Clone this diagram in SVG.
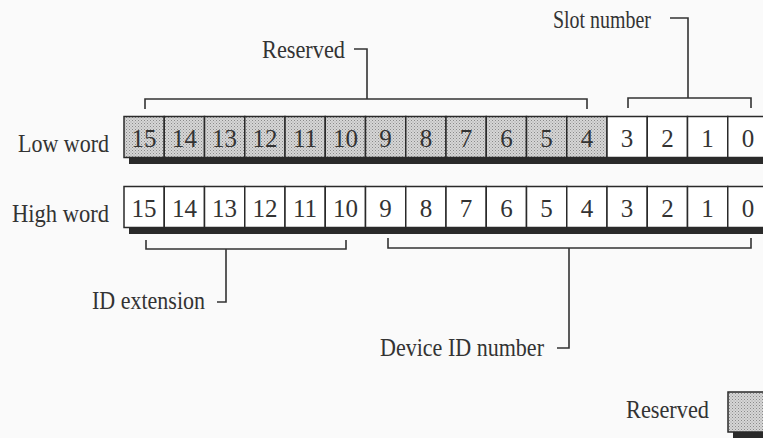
<svg xmlns="http://www.w3.org/2000/svg" width="763" height="438" viewBox="0 0 763 438">
<defs>
<pattern id="dots" width="3" height="3" patternUnits="userSpaceOnUse">
<rect width="3" height="3" fill="#d6d6d6"/>
<rect x="0" y="0" width="1" height="1" fill="#8a8a8a"/>
<rect x="1.5" y="1.5" width="1" height="1" fill="#a0a0a0"/>
</pattern>
</defs>
<style>
text{font-family:"Liberation Serif","Times New Roman",serif;fill:#333;}
.lbl{font-size:25px;}
.dig{font-size:25px;text-anchor:middle;}
.cell{stroke:#2a2a2a;stroke-width:1.5;}
.sh{fill:#2a2a2a;}
.w{fill:#fff;}
.g{fill:url(#dots);}
.br{fill:none;stroke:#333;stroke-width:1.6;}
</style>
<rect width="763" height="438" fill="#fafafa"/>

<g id="low-word">
<text class="lbl" x="18" y="152" textLength="91" lengthAdjust="spacingAndGlyphs">Low word</text>
<rect class="sh" x="129" y="156" width="640" height="8"/>
<g class="cell">
<rect class="g" x="124" y="116.5" width="40.25" height="41"/>
<rect class="g" x="164.25" y="116.5" width="40.25" height="41"/>
<rect class="g" x="204.5" y="116.5" width="40.25" height="41"/>
<rect class="g" x="244.75" y="116.5" width="40.25" height="41"/>
<rect class="g" x="285" y="116.5" width="40.25" height="41"/>
<rect class="g" x="325.25" y="116.5" width="40.25" height="41"/>
<rect class="g" x="365.5" y="116.5" width="40.25" height="41"/>
<rect class="g" x="405.75" y="116.5" width="40.25" height="41"/>
<rect class="g" x="446" y="116.5" width="40.25" height="41"/>
<rect class="g" x="486.25" y="116.5" width="40.25" height="41"/>
<rect class="g" x="526.5" y="116.5" width="40.25" height="41"/>
<rect class="g" x="566.75" y="116.5" width="40.25" height="41"/>
<rect class="w" x="607" y="116.5" width="40.25" height="41"/>
<rect class="w" x="647.25" y="116.5" width="40.25" height="41"/>
<rect class="w" x="687.5" y="116.5" width="40.25" height="41"/>
<rect class="w" x="727.75" y="116.5" width="40.25" height="41"/>
</g>
<text class="dig" x="144.1" y="147">15</text>
<text class="dig" x="184.4" y="147">14</text>
<text class="dig" x="224.6" y="147">13</text>
<text class="dig" x="264.9" y="147">12</text>
<text class="dig" x="305.1" y="147">11</text>
<text class="dig" x="345.4" y="147">10</text>
<text class="dig" x="385.6" y="147">9</text>
<text class="dig" x="425.9" y="147">8</text>
<text class="dig" x="466.1" y="147">7</text>
<text class="dig" x="506.4" y="147">6</text>
<text class="dig" x="546.6" y="147">5</text>
<text class="dig" x="586.9" y="147">4</text>
<text class="dig" x="627.1" y="147">3</text>
<text class="dig" x="667.4" y="147">2</text>
<text class="dig" x="707.6" y="147">1</text>
<text class="dig" x="747.9" y="147">0</text>
</g>

<g id="high-word">
<text class="lbl" x="12" y="222" textLength="97" lengthAdjust="spacingAndGlyphs">High word</text>
<rect class="sh" x="129" y="227" width="640" height="7"/>
<g class="cell">
<rect class="w" x="124" y="186.5" width="40.25" height="41"/>
<rect class="w" x="164.25" y="186.5" width="40.25" height="41"/>
<rect class="w" x="204.5" y="186.5" width="40.25" height="41"/>
<rect class="w" x="244.75" y="186.5" width="40.25" height="41"/>
<rect class="w" x="285" y="186.5" width="40.25" height="41"/>
<rect class="w" x="325.25" y="186.5" width="40.25" height="41"/>
<rect class="w" x="365.5" y="186.5" width="40.25" height="41"/>
<rect class="w" x="405.75" y="186.5" width="40.25" height="41"/>
<rect class="w" x="446" y="186.5" width="40.25" height="41"/>
<rect class="w" x="486.25" y="186.5" width="40.25" height="41"/>
<rect class="w" x="526.5" y="186.5" width="40.25" height="41"/>
<rect class="w" x="566.75" y="186.5" width="40.25" height="41"/>
<rect class="w" x="607" y="186.5" width="40.25" height="41"/>
<rect class="w" x="647.25" y="186.5" width="40.25" height="41"/>
<rect class="w" x="687.5" y="186.5" width="40.25" height="41"/>
<rect class="w" x="727.75" y="186.5" width="40.25" height="41"/>
</g>
<text class="dig" x="144.1" y="217">15</text>
<text class="dig" x="184.4" y="217">14</text>
<text class="dig" x="224.6" y="217">13</text>
<text class="dig" x="264.9" y="217">12</text>
<text class="dig" x="305.1" y="217">11</text>
<text class="dig" x="345.4" y="217">10</text>
<text class="dig" x="385.6" y="217">9</text>
<text class="dig" x="425.9" y="217">8</text>
<text class="dig" x="466.1" y="217">7</text>
<text class="dig" x="506.4" y="217">6</text>
<text class="dig" x="546.6" y="217">5</text>
<text class="dig" x="586.9" y="217">4</text>
<text class="dig" x="627.1" y="217">3</text>
<text class="dig" x="667.4" y="217">2</text>
<text class="dig" x="707.6" y="217">1</text>
<text class="dig" x="747.9" y="217">0</text>
</g>

<g id="label-reserved">
<text class="lbl" x="262" y="58" textLength="83" lengthAdjust="spacingAndGlyphs">Reserved</text>
</g>
<g id="label-slot-number">
<text class="lbl" x="553" y="28" textLength="98" lengthAdjust="spacingAndGlyphs">Slot number</text>
</g>
<g id="label-id-extension">
<text class="lbl" x="92" y="309" textLength="113" lengthAdjust="spacingAndGlyphs">ID extension</text>
</g>
<g id="label-device-id">
<text class="lbl" x="380" y="356" textLength="164" lengthAdjust="spacingAndGlyphs">Device ID number</text>
</g>
<g id="legend-reserved">
<text class="lbl" x="626" y="418" textLength="83" lengthAdjust="spacingAndGlyphs">Reserved</text>
<rect class="sh" x="733" y="428" width="40" height="12"/>
<rect class="cell g" x="728" y="392" width="40" height="40"/>
</g>

<g id="connectors">
<path class="br" d="M145,109 V99 H587 V109 M367,99 V49 H354"/>
<path class="br" d="M628,108 V98 H751 V108 M688,98 V18 H670"/>
<path class="br" d="M146,240 V249 H346 V240 M226,249 V302 H217"/>
<path class="br" d="M388,238 V248 H751 V238 M569,248 V348 H557"/>
</g>
</svg>
